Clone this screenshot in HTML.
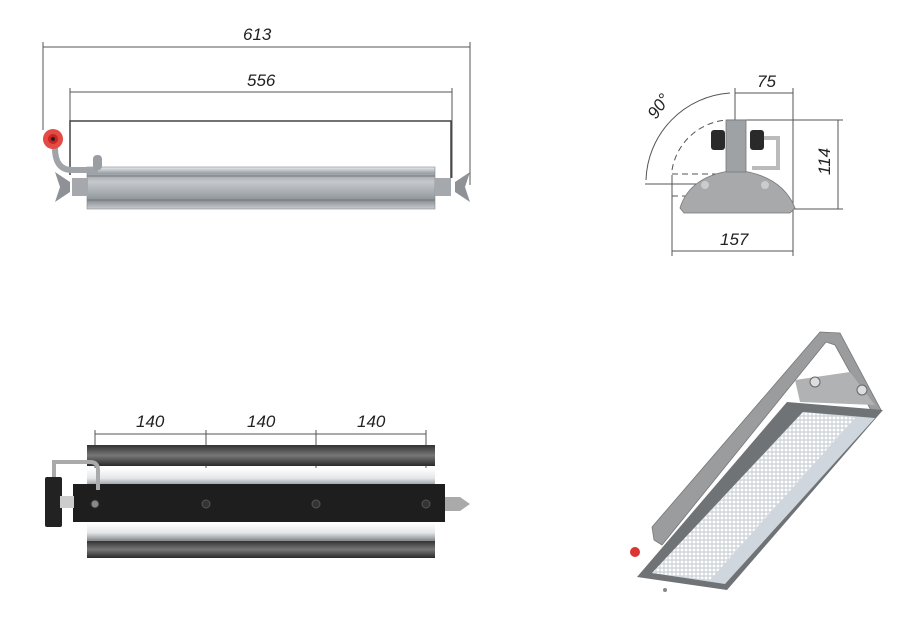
<!DOCTYPE html>
<html><head><meta charset="utf-8"><style>
html,body{margin:0;padding:0;background:#fff;}
svg{display:block}
text{font-family:"Liberation Sans",sans-serif;font-style:italic;fill:#222;}
</style></head><body>
<svg width="910" height="631" viewBox="0 0 910 631" xmlns="http://www.w3.org/2000/svg">
<defs>
<linearGradient id="alu" x1="0" y1="0" x2="0" y2="1">
<stop offset="0" stop-color="#e8ecef"/><stop offset="0.15" stop-color="#9aa0a5"/><stop offset="0.35" stop-color="#c4c8cc"/><stop offset="0.6" stop-color="#a8adb2"/><stop offset="0.8" stop-color="#8d9297"/><stop offset="1" stop-color="#c9cdd0"/></linearGradient>
<linearGradient id="dk" x1="0" y1="0" x2="0" y2="1">
<stop offset="0" stop-color="#333"/><stop offset="0.5" stop-color="#777"/><stop offset="1" stop-color="#2a2a2a"/></linearGradient>
<linearGradient id="lt" x1="0" y1="0" x2="0" y2="1">
<stop offset="0" stop-color="#fff"/><stop offset="0.6" stop-color="#e4e6e8"/><stop offset="1" stop-color="#9a9ea2"/></linearGradient>
<pattern id="led" width="4" height="4" patternUnits="userSpaceOnUse"><rect width="4" height="4" fill="#d4d8dc"/><circle cx="2" cy="2" r="1.4" fill="#fff"/></pattern>
</defs>
<g stroke="#555" stroke-width="1" fill="none">
<line x1="43" y1="47" x2="470" y2="47"/>
<line x1="43" y1="42" x2="43" y2="130"/>
<line x1="470" y1="42" x2="470" y2="185"/>
<line x1="70" y1="92" x2="452" y2="92"/>
<line x1="70" y1="88" x2="70" y2="175"/>
<line x1="452" y1="88" x2="452" y2="178"/>
<polyline points="70,175 70,121 451,121 451,178" stroke="#444" stroke-width="1.5"/>
</g>
<text x="243" y="40" font-size="17">613</text>
<text x="247" y="86" font-size="17">556</text>
<rect x="87" y="167" width="348" height="42" fill="url(#alu)" stroke="#888" stroke-width="0.6"/>
<line x1="87" y1="176" x2="435" y2="176" stroke="#777" stroke-width="1"/>
<line x1="87" y1="200" x2="435" y2="200" stroke="#777" stroke-width="1"/>
<rect x="72" y="178" width="16" height="18" fill="#a5a9ad"/>
<rect x="435" y="178" width="16" height="18" fill="#a5a9ad"/>
<path d="M55,172 L70,182 L70,192 L55,202 L60,187Z" fill="#8e9296"/>
<path d="M470,172 L455,182 L455,192 L470,202 L465,187Z" fill="#8e9296"/>
<path d="M55,148 Q55,170 72,170 L98,170" stroke="#a0a4a8" stroke-width="6" fill="none"/>
<rect x="93" y="155" width="9" height="15" rx="4" fill="#9a9ea2"/>
<circle cx="53" cy="139" r="10" fill="#e34b45"/>
<circle cx="53" cy="139" r="5" fill="#c22"/>
<circle cx="53" cy="139" r="2" fill="#222"/>
<g stroke="#555" stroke-width="1" fill="none">
<line x1="735" y1="93" x2="793" y2="93"/>
<line x1="735" y1="88" x2="735" y2="185"/>
<line x1="793" y1="88" x2="793" y2="210"/>
<line x1="838" y1="120" x2="838" y2="209"/>
<line x1="727" y1="120" x2="843" y2="120"/>
<line x1="790" y1="209" x2="843" y2="209"/>
<line x1="672" y1="251" x2="793" y2="251"/>
<line x1="672" y1="175" x2="672" y2="256"/>
<line x1="793" y1="210" x2="793" y2="256"/>
<line x1="645" y1="184" x2="740" y2="184"/>
<path d="M646,180 A90,90 0 0 1 730,93"/>
<path d="M672,170 A60,60 0 0 1 727,120" stroke-dasharray="6,4"/>
<line x1="672" y1="174" x2="720" y2="174" stroke-dasharray="6,4"/>
<line x1="672" y1="196" x2="720" y2="196" stroke-dasharray="6,4"/>
</g>
<text x="757" y="87" font-size="17">75</text>
<text x="720" y="245" font-size="17">157</text>
<text x="0" y="0" font-size="17" transform="translate(830,175) rotate(-90)">114</text>
<text x="0" y="0" font-size="17" transform="translate(656,120) rotate(-55)">90°</text>
<path d="M680,208 Q690,175 736,170 Q782,175 795,208 L790,213 L684,213Z" fill="#a7a9aa" stroke="#777" stroke-width="0.8"/>
<rect x="726" y="120" width="20" height="52" fill="#9fa2a4" stroke="#777" stroke-width="0.8"/>
<rect x="711" y="130" width="14" height="20" rx="3" fill="#2a2a2a"/>
<rect x="750" y="130" width="14" height="20" rx="3" fill="#2a2a2a"/>
<path d="M764,138 L778,138 L778,168 L752,168" stroke="#bbb" stroke-width="4" fill="none"/>
<circle cx="705" cy="185" r="4" fill="#ccc"/><circle cx="765" cy="185" r="4" fill="#ccc"/>
<g stroke="#555" stroke-width="1" fill="none">
<line x1="95" y1="434" x2="426" y2="434"/>
<line x1="95" y1="430" x2="95" y2="505"/>
<line x1="206" y1="430" x2="206" y2="505"/>
<line x1="316" y1="430" x2="316" y2="505"/>
<line x1="426" y1="430" x2="426" y2="505"/>
</g>
<text x="136" y="427" font-size="17">140</text>
<text x="247" y="427" font-size="17">140</text>
<text x="357" y="427" font-size="17">140</text>
<rect x="87" y="445" width="348" height="21" fill="url(#dk)"/>
<rect x="87" y="468" width="348" height="17" fill="url(#lt)"/>
<rect x="73" y="484" width="372" height="38" fill="#1e1e1e"/>
<rect x="87" y="523" width="348" height="16" fill="url(#lt)"/>
<line x1="87" y1="540" x2="435" y2="540" stroke="#222" stroke-width="1"/>
<rect x="87" y="541" width="348" height="17" fill="url(#dk)"/>
<circle cx="95" cy="504" r="4" fill="#888" stroke="#333"/>
<circle cx="206" cy="504" r="4" fill="#333" stroke="#555"/>
<circle cx="316" cy="504" r="4" fill="#333" stroke="#555"/>
<circle cx="426" cy="504" r="4" fill="#333" stroke="#555"/>
<path d="M54,478 L54,462 L90,462 Q98,462 98,470 L98,490" stroke="#aaa" stroke-width="4" fill="none"/>
<rect x="45" y="477" width="17" height="50" rx="2" fill="#222"/>
<rect x="60" y="496" width="14" height="12" fill="#ccc"/>
<path d="M445,497 L460,497 L470,504 L460,511 L445,511Z" fill="#aaa"/>
<!-- bottom right 3D -->
<path d="M820,332 L840,333 L881,410 L872,412 L835,345 L826,342 L662,545 L654,540 L652,527Z" fill="#9a9c9e" stroke="#777" stroke-width="0.8"/>
<path d="M787,402 L883,410 L727,590 L637,577Z" fill="#6f7376"/>
<path d="M803,412 L875,418 L725,584 L652,573Z" fill="#d0d6de"/>
<path d="M803,412 L855,418 L710,580 L652,573Z" fill="url(#led)"/>
<path d="M795,380 L850,372 L875,405 L800,402Z" fill="#b0b2b4"/>
<circle cx="815" cy="382" r="5" fill="#ddd" stroke="#666"/>
<circle cx="862" cy="390" r="5" fill="#ddd" stroke="#666"/>
<circle cx="635" cy="552" r="5" fill="#d33"/>
<circle cx="665" cy="590" r="2" fill="#888"/>
</svg>
</body></html>
